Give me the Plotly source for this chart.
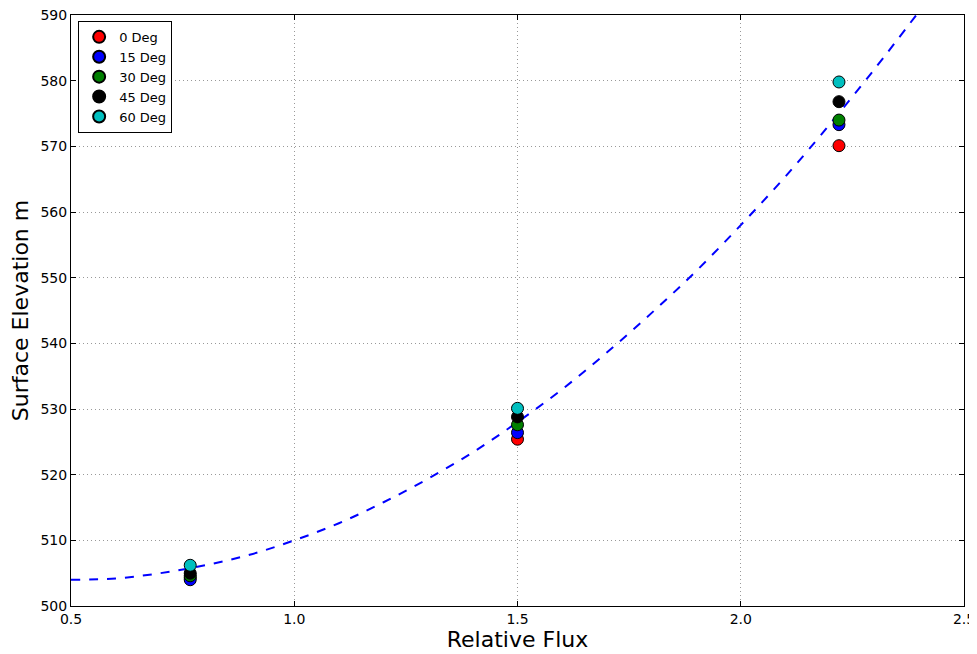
import plotly.graph_objects as go

# Data
angles = ["0 Deg", "15 Deg", "30 Deg", "45 Deg", "60 Deg"]
colors = ["#ff0000", "#0000ff", "#008000", "#000000", "#00bfbf"]
flux = [0.767, 1.5, 2.22]
elev_0 = [504.3, 525.4, 570.1]
elev_15 = [504.0, 526.4, 573.3]
elev_30 = [504.6, 527.6, 574.0]
elev_45 = [505.0, 528.8, 576.8]
elev_60 = [506.2, 530.1, 579.8]
series = [elev_0, elev_15, elev_30, elev_45, elev_60]

# Dashed fit curve
fit_x = [0.5, 0.6, 0.7, 0.8, 0.9, 1.0, 1.1, 1.2, 1.3, 1.4, 1.5, 1.6, 1.7,
         1.8, 1.9, 2.0, 2.1, 2.2, 2.3, 2.4]
fit_y = [504.0, 504.2, 505.0, 506.2, 507.8, 510.0, 512.6, 515.8, 519.4, 523.4,
         528.0, 533.0, 538.6, 544.6, 551.0, 558.0, 565.4, 573.4, 581.8, 590.6]

x_ticks = [0.5, 1.0, 1.5, 2.0, 2.5]
x_tick_labels = ["0.5", "1.0", "1.5", "2.0", "2.5"]
y_ticks = [500, 510, 520, 530, 540, 550, 560, 570, 580, 590]

fig = go.Figure()
fig.add_trace(go.Scatter(x=fit_x, y=fit_y, mode="lines", showlegend=False,
                         line=dict(color="#0000ff", width=2, dash="dash", shape="spline"),
                         hoverinfo="skip"))
for name, col, ys in zip(angles, colors, series):
    fig.add_trace(go.Scatter(x=flux, y=ys, mode="markers", name=name,
                             marker=dict(color=col, size=12,
                                         line=dict(color="#000000", width=1))))

font_family = "DejaVu Sans"
axis_common = dict(showline=True, linecolor="#000000", linewidth=1, mirror="ticks",
                   ticks="inside", ticklen=5, tickcolor="#000000",
                   showgrid=True, gridcolor="#999999", griddash="1px,3px", gridwidth=1,
                   zeroline=False, automargin=False, ticklabeloverflow="allow",
                   tickfont=dict(family=font_family, size=14, color="#000000"))

# The page body adds an 8px offset, so the figure is sized to fit the window
fig.update_layout(
    width=969, height=646,
    margin=dict(l=63, r=13, t=7, b=48),
    paper_bgcolor="#ffffff", plot_bgcolor="#ffffff",
    font=dict(family=font_family, color="#000000"),
    xaxis=dict(range=[0.5, 2.5], tickvals=x_ticks, ticktext=x_tick_labels,
               title=dict(text="Relative Flux", font=dict(size=22), standoff=2),
               **axis_common),
    yaxis=dict(range=[500, 590], tickvals=y_ticks,
               title=dict(text="Surface Elevation m", font=dict(size=22), standoff=6),
               **axis_common),
    legend=dict(x=0.008, y=0.99, xanchor="left", yanchor="top",
                bordercolor="#000000", borderwidth=1, bgcolor="#ffffff",
                font=dict(family=font_family, size=13), tracegroupgap=0,
                itemsizing="constant"),
    showlegend=True,
)

fig.write_html("out.html")
